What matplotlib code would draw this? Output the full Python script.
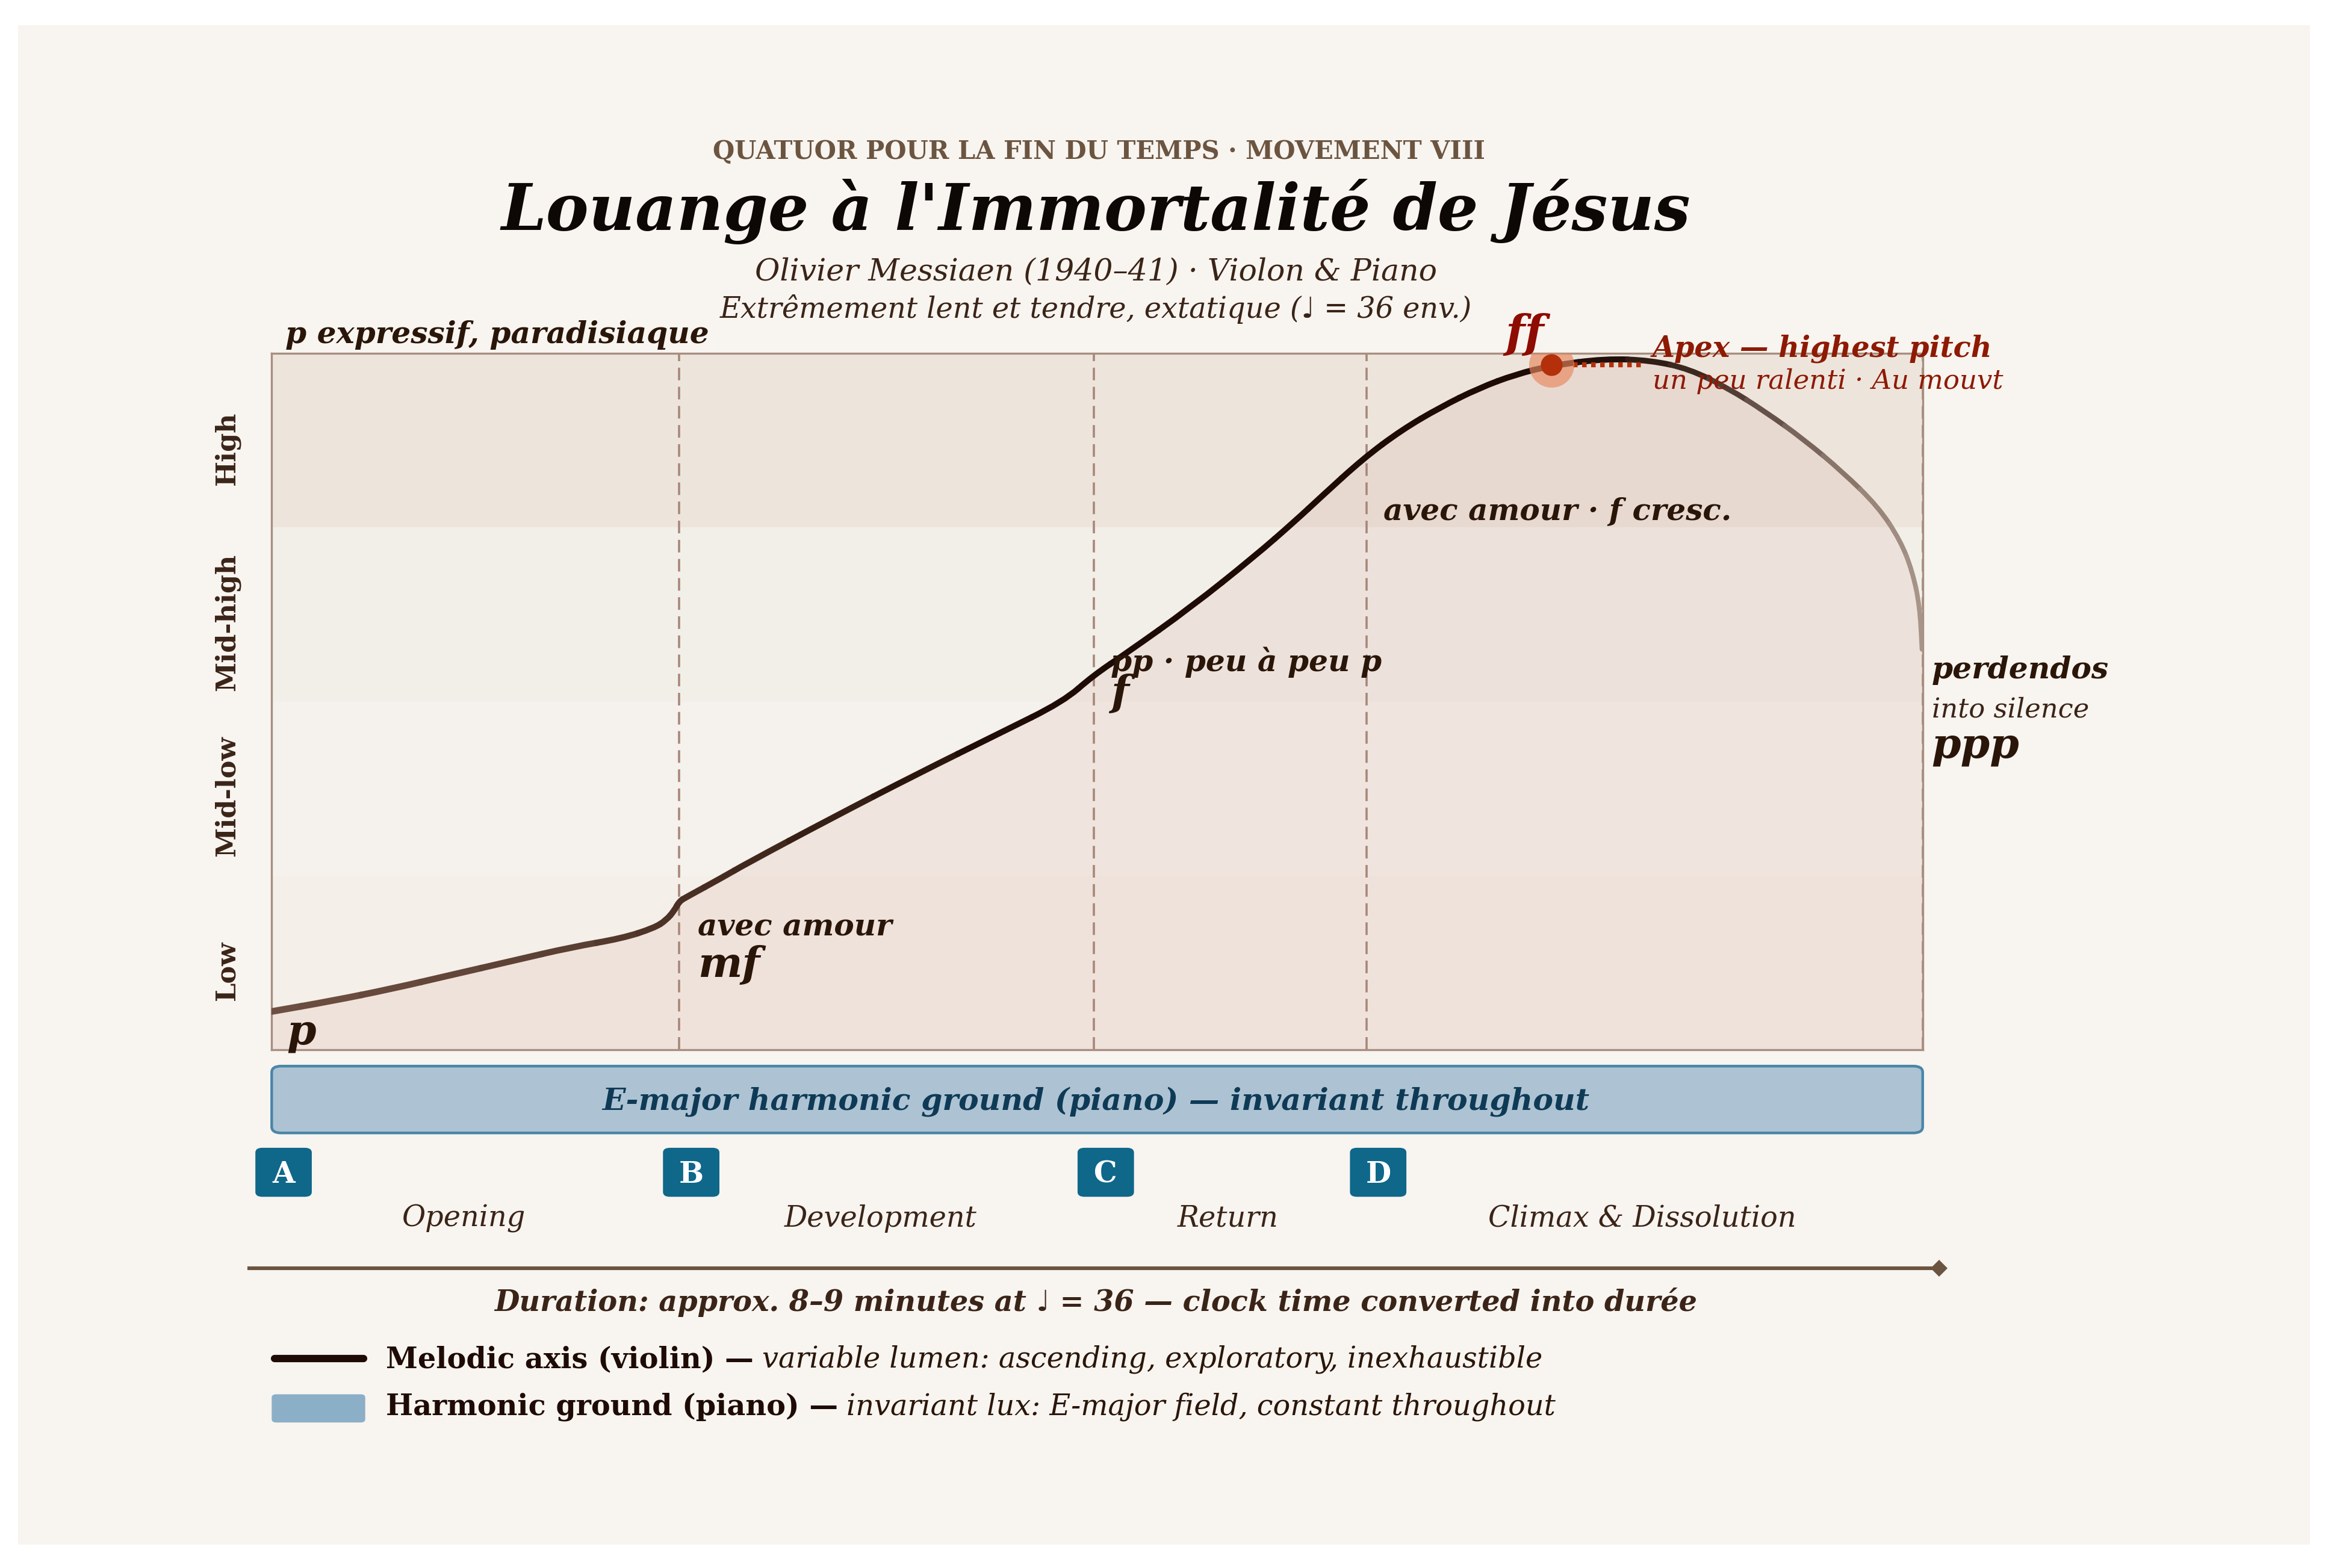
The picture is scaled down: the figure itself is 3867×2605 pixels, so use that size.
import numpy as np
import matplotlib
matplotlib.use("Agg")
import matplotlib.pyplot as plt
from matplotlib.patches import Rectangle, FancyBboxPatch, PathPatch
from matplotlib.path import Path
from matplotlib.colors import LinearSegmentedColormap
from matplotlib.text import Annotation

# ---------------- data ----------------
register_labels = ["Low", "Mid-low", "Mid-high", "High"]
section_letters = ["A", "B", "C", "D"]
section_names = ["Opening", "Development", "Return", "Climax & Dissolution"]
section_starts = [0.0, 24.69, 49.8, 66.3]
section_end = 100.0

# melodic contour (violin): time in % of the movement, register height 0..4
time_pct = [0.00, 3.60, 7.25, 10.88, 14.54, 18.18, 21.22, 23.17, 23.90, 24.39,
            24.69, 25.12, 27.30, 28.76, 33.90, 39.01, 44.12, 47.95, 49.76, 51.80,
            55.65, 59.48, 62.02, 63.55, 66.10, 68.44, 70.77, 73.11, 75.36, 77.52,
            80.76, 83.54, 85.88, 88.22, 90.47, 92.81, 95.14, 97.30, 98.65, 99.37,
            99.82, 99.96]
pitch = [0.22, 0.28, 0.35, 0.43, 0.51, 0.59, 0.64, 0.70, 0.745, 0.80,
         0.853, 0.877, 0.99, 1.07, 1.33, 1.58, 1.82, 2.00, 2.15, 2.28,
         2.54, 2.83, 3.04, 3.175, 3.395, 3.56, 3.69, 3.80, 3.88, 3.93,
         3.97, 3.96, 3.91, 3.80, 3.665, 3.505, 3.32, 3.12, 2.925, 2.75,
         2.55, 2.30]
apex_x, apex_y = 77.52, 3.935

# ---------------- figure ----------------
W, H = 3867, 2605
fig = plt.figure(figsize=(W / 200, H / 200), dpi=200)
fig.patch.set_facecolor("white")

def F(xd, yd):
    return xd / 1568.0, 1 - yd / 1056.0

SERIF = ["DejaVu Serif", "DejaVu Sans"]
DARK = "#2a1609"
MID = "#3a2418"

panel = Rectangle(F(12, 1040), (1556 - 12) / 1568, (1040 - 17) / 1056,
                  transform=fig.transFigure, facecolor="#f8f4ef", edgecolor="none", zorder=-5)
fig.patches.append(panel)

ax = fig.add_axes([183 / 1568, 1 - 707 / 1056, (1295 - 183) / 1568, (707 - 238) / 1056])
ax.set_zorder(2)
ax.set_xlim(0, 100)
ax.set_ylim(0, 4)
ax.set_facecolor("none")
band_cols = ["#f5efe9", "#f5f1ec", "#f2efe9", "#ede5dc"]
for i, c in enumerate(band_cols):
    ax.axhspan(i, i + 1, color=c, zorder=0, lw=0)

ax.fill_between(time_pct, 0, pitch, color="#c08070", alpha=0.11, lw=0, zorder=1)

for s in section_starts[1:] + [section_end]:
    ax.axvline(s, color="#a8877a", lw=1.3, ls=(0, (5.8, 3.0)), zorder=2)

for sp in ax.spines.values():
    sp.set_color("#a68e80")
    sp.set_linewidth(1.2)
ax.set_xticks([])
ax.set_yticks([])

# smooth gradient melodic line (quadratic Bezier pieces through the read points)
cmap = LinearSegmentedColormap.from_list(
    "mel", [(0.0, "#6e5042"), (0.18, "#5a3f33"), (0.3, "#3e251a"), (0.45, "#1e0b05"),
            (0.80, "#1e0b05"), (0.86, "#3c2a21"), (0.93, "#7a665b"), (1.0, "#a89589")])
P = np.column_stack([time_pct, pitch])
M = (P[:-1] + P[1:]) / 2.0
n = len(P)

def width_at(f):
    return float(np.interp(f, [0.0, 0.25, 0.5, 0.8, 1.0], [4.0, 3.7, 3.6, 3.6, 2.8]))

pieces = [([P[0], M[0]], [Path.MOVETO, Path.LINETO], (P[0, 0] + M[0, 0]) / 200)]
for i in range(1, n - 1):
    pieces.append(([M[i - 1], P[i], M[i]], [Path.MOVETO, Path.CURVE3, Path.CURVE3], P[i, 0] / 100))
pieces.append(([M[-1], P[-1]], [Path.MOVETO, Path.LINETO], (M[-1, 0] + P[-1, 0]) / 200))
for verts, codes, f in pieces:
    pp = PathPatch(Path(verts, codes), facecolor="none", edgecolor=cmap(f),
                   lw=width_at(f), capstyle="round", joinstyle="round", zorder=4)
    ax.add_patch(pp)

# apex marker
ax.plot([apex_x + 1.3, apex_x + 5.6], [apex_y, apex_y], color="#b3300a", lw=3.0,
        ls=(0, (0.9, 0.9)), dash_capstyle="butt", zorder=5)
ax.plot([apex_x], [apex_y], "o", ms=27, color="#e8875e", alpha=0.65, mew=0, zorder=6)
ax.plot([apex_x], [apex_y], "o", ms=13, color="#b3300a", mew=0, zorder=7)

# register labels
for i, lab in enumerate(register_labels):
    ax.text(-0.027, (i + 0.5) / 4 - 0.011, lab, transform=ax.transAxes, rotation=90,
            ha="center", va="center", fontsize=16, fontweight="bold",
            color=MID, family=SERIF)

def D(px, py):
    return (px - 183) / 1112 * 100, (707 - py) / 117.25

def atext(px, py, s, size, weight="bold", style="italic", color=DARK, **kw):
    x, y = D(px, py)
    ax.text(x, y, s, fontsize=size, fontweight=weight, fontstyle=style, color=color,
            family=SERIF, ha="left", va="baseline", clip_on=False, zorder=8, **kw)

atext(192, 231, "p expressif, paradisiaque", 18.1)
atext(193, 703, "p", 25)
atext(470, 630, "avec amour", 18.0)
atext(470, 658, "mf", 25)
atext(748, 452, "pp · peu à peu p", 18.1)
atext(748, 475, "f", 25)
atext(932, 350, "avec amour · f cresc.", 18.0)
atext(1014, 234, "ff", 27, color="#8e0c02")
atext(1113, 240, "Apex — highest pitch", 17.2, color="#8e1a04")
atext(1113, 262, "un peu ralenti · Au mouvt", 16.2, weight="normal", color="#8e1a04")
atext(1301, 457, "perdendos", 18.1)
atext(1301, 483, "into silence", 16.1, weight="normal", color=MID)
atext(1301, 510, "ppp", 25)

# ---------------- header ----------------
def ftext(px, py, s, size, weight="normal", style="normal", color=DARK, ha="center", va="baseline"):
    x, y = F(px, py)
    return fig.text(x, y, s, fontsize=size, fontweight=weight, fontstyle=style, color=color,
                    family=SERIF, ha=ha, va=va)

ftext(740, 107, "QUATUOR POUR LA FIN DU TEMPS · MOVEMENT VIII", 15, weight="bold", color="#6b5440")
ftext(738, 155, "Louange à l'Immortalité de Jésus", 38.3, weight="bold", style="italic", color="#0d0705")
ftext(738, 189, "Olivier Messiaen (1940–41) · Violon & Piano", 18.2, style="italic", color=MID)
ftext(738, 214, "Extrêmement lent et tendre, extatique (♩ = 36 env.)", 17.2, style="italic", color=MID)

# ---------------- harmonic ground bar ----------------
x0, y0 = F(183, 763)
x1, y1 = F(1295, 718)
bar = FancyBboxPatch((x0, y0), x1 - x0, y1 - y0, boxstyle="round,pad=0,rounding_size=0.004",
                     transform=fig.transFigure, facecolor="#adc3d3", edgecolor="#4a86a8", lw=1.6)
fig.patches.append(bar)
ftext(738, 742, "E-major harmonic ground (piano) — invariant throughout", 18.2, weight="bold",
      style="italic", color="#0e3a56", va="center")

# ---------------- section badges ----------------
label_nudge = [-8, -4, -1.5, -1.5]
for s, letter, name, nxt, nud in zip(section_starts, section_letters, section_names,
                                     section_starts[1:] + [section_end], label_nudge):
    bx = 183 + s / 100 * 1112
    cx = bx + 8
    bx0, by0 = F(cx - 19, 806)
    bx1, by1 = F(cx + 19, 773)
    badge = FancyBboxPatch((bx0, by0), bx1 - bx0, by1 - by0,
                           boxstyle="round,pad=0,rounding_size=0.003",
                           transform=fig.transFigure, facecolor="#0f678a", edgecolor="none")
    fig.patches.append(badge)
    ftext(cx, 791, letter, 17.5, weight="bold", color="white", va="center")
    mx = 183 + (s + nxt) / 200 * 1112
    ftext(mx + nud, 826, name, 17.2, style="italic", color=MID)

# timeline arrow
tx0, ty = F(168, 854)
tx1, _ = F(1306, 854)
fig.add_artist(plt.Line2D([tx0, tx1], [ty, ty], transform=fig.transFigure, color="#6b5440", lw=2.2))
fig.add_artist(plt.Line2D([tx1], [ty], transform=fig.transFigure, marker="D", ms=7,
                          color="#6b5440", mew=0))

ftext(738, 883, "Duration: approx. 8–9 minutes at ♩ = 36 — clock time converted into durée", 17.2,
      weight="bold", style="italic", color=MID)

# ---------------- legend ----------------
lx0, ly = F(185, 915)
lx1, _ = F(245, 915)
fig.add_artist(plt.Line2D([lx0, lx1], [ly, ly], transform=fig.transFigure, color="#1e0b05",
                          lw=4.4, solid_capstyle="round"))
rx0, ry0 = F(183, 958)
rx1, ry1 = F(246, 939)
fig.patches.append(FancyBboxPatch((rx0, ry0), rx1 - rx0, ry1 - ry0,
                                  boxstyle="round,pad=0,rounding_size=0.002",
                                  transform=fig.transFigure, facecolor="#8bafc7", edgecolor="none"))

LEG = 17.2
t1 = ftext(260, 921, "Melodic axis (violin) —", LEG, weight="bold", color="#1e0b05", ha="left")
fig.add_artist(Annotation(
    "variable lumen: ascending, exploratory, inexhaustible", xy=(1, 0), xycoords=t1,
    xytext=(5, 0), textcoords="offset points", fontsize=LEG, fontstyle="italic",
    color=DARK, family=SERIF, ha="left", va="bottom"))
t2 = ftext(260, 953, "Harmonic ground (piano) —", LEG, weight="bold", color="#1e0b05", ha="left")
fig.add_artist(Annotation(
    "invariant lux: E-major field, constant throughout", xy=(1, 0), xycoords=t2,
    xytext=(5, 0), textcoords="offset points", fontsize=LEG, fontstyle="italic",
    color=DARK, family=SERIF, ha="left", va="bottom"))

fig.savefig("out.png", dpi=200, facecolor=fig.get_facecolor())
